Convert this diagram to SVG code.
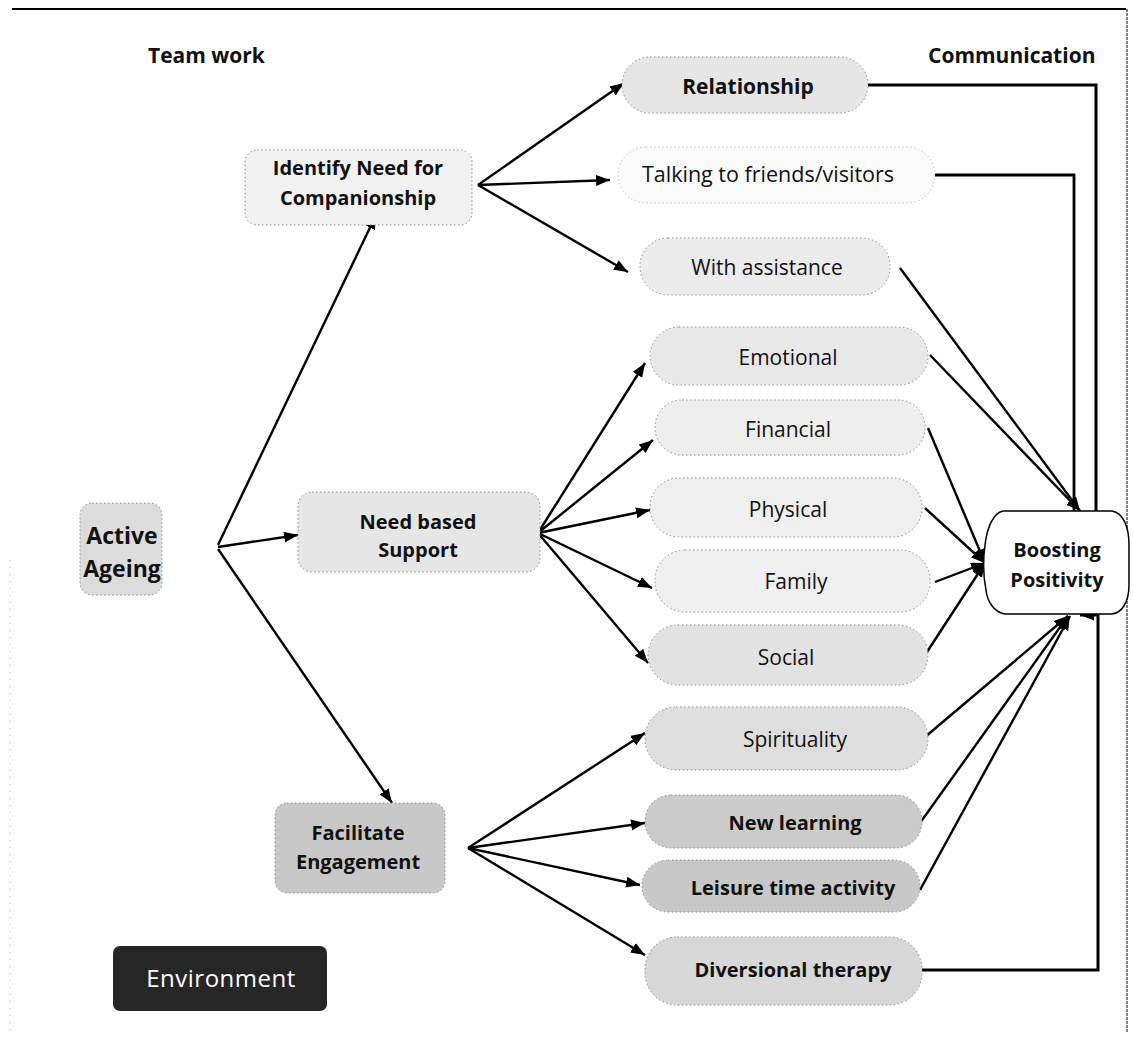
<svg xmlns="http://www.w3.org/2000/svg" width="1133" height="1039" viewBox="0 0 1133 1039">
<defs>
<style>
.t{font-family:"Open Sans","Liberation Sans",sans-serif;font-size:20px;fill:#111;text-anchor:middle}
.b{font-weight:bold}
.m{font-size:21px}
.hd{font-family:"Open Sans","Liberation Sans",sans-serif;font-size:21px;font-weight:bold;fill:#111}
.pill{stroke:#8a8a8a;stroke-width:1;stroke-dasharray:1.5 2.5}
.c{fill:none;stroke:#000;stroke-width:2.4}
</style>
<marker id="ah" markerUnits="userSpaceOnUse" markerWidth="15" markerHeight="12" refX="14" refY="5.5" orient="auto">
<path d="M0,0 L14,5.5 L0,11 Z" fill="#000"/>
</marker>
</defs>
<rect width="1133" height="1039" fill="#fff"/>
<g id="frame">
<line x1="12" y1="9" x2="1126" y2="9" stroke="#000" stroke-width="2"/>
<line x1="1127" y1="9" x2="1127" y2="1032" stroke="#555" stroke-width="1.5" stroke-dasharray="3 1"/>
<line x1="10" y1="560" x2="10" y2="1030" stroke="#aaa" stroke-width="1" stroke-dasharray="1 6"/>
</g>
<g id="headers">
<text class="hd" x="148" y="63">Team work</text>
<text class="hd" x="928" y="63">Communication</text>
</g>
<g id="connectors">
<line class="c" x1="218" y1="545" x2="376" y2="215" marker-end="url(#ah)"/>
<line class="c" x1="218" y1="547" x2="298" y2="535" marker-end="url(#ah)"/>
<line class="c" x1="218" y1="549" x2="392" y2="803" marker-end="url(#ah)"/>
<line class="c" x1="478" y1="185" x2="624" y2="83" marker-end="url(#ah)"/>
<line class="c" x1="478" y1="185" x2="610" y2="180" marker-end="url(#ah)"/>
<line class="c" x1="478" y1="185" x2="628" y2="272" marker-end="url(#ah)"/>
<line class="c" x1="538" y1="533" x2="645" y2="363" marker-end="url(#ah)"/>
<line class="c" x1="538" y1="533" x2="653" y2="440" marker-end="url(#ah)"/>
<line class="c" x1="538" y1="533" x2="650" y2="510" marker-end="url(#ah)"/>
<line class="c" x1="538" y1="533" x2="652" y2="588" marker-end="url(#ah)"/>
<line class="c" x1="538" y1="533" x2="648" y2="663" marker-end="url(#ah)"/>
<line class="c" x1="468" y1="848" x2="645" y2="733" marker-end="url(#ah)"/>
<line class="c" x1="468" y1="848" x2="645" y2="823" marker-end="url(#ah)"/>
<line class="c" x1="468" y1="848" x2="640" y2="885" marker-end="url(#ah)"/>
<line class="c" x1="468" y1="848" x2="645" y2="955" marker-end="url(#ah)"/>
<path class="c" d="M868,85 H1096 V511" style="stroke-width:3"/>
<path class="c" d="M935,175 H1074 V511" style="stroke-width:2.8"/>
<line class="c" x1="900" y1="268" x2="1080" y2="511" marker-end="url(#ah)"/>
<line class="c" x1="930" y1="355" x2="1080" y2="511" marker-end="url(#ah)"/>
<line class="c" x1="928" y1="428" x2="985" y2="563" marker-end="url(#ah)"/>
<line class="c" x1="925" y1="508" x2="985" y2="563" marker-end="url(#ah)"/>
<line class="c" x1="935" y1="582" x2="985" y2="563" marker-end="url(#ah)"/>
<line class="c" x1="925" y1="655" x2="985" y2="563" marker-end="url(#ah)"/>
<line class="c" x1="925" y1="737" x2="1068" y2="616" marker-end="url(#ah)"/>
<line class="c" x1="920" y1="823" x2="1068" y2="616" marker-end="url(#ah)"/>
<line class="c" x1="920" y1="890" x2="1070" y2="616" marker-end="url(#ah)"/>
<path class="c" d="M922,970 H1098 V615 H1080" style="stroke-width:3" marker-end="url(#ah)"/>
</g>
<g id="n-active">
<rect x="80" y="503" width="82" height="92" rx="12" fill="#dcdcdc" class="pill"/>
<text class="t b" x="122" y="544" style="font-size:23px">Active</text>
<text class="t b" x="122" y="577" style="font-size:23px">Ageing</text>
</g>
<g id="n-identify">
<rect x="245" y="150" width="227" height="75" rx="12" fill="#f1f1f1" class="pill"/>
<text class="t b" x="358" y="175">Identify Need for</text>
<text class="t b" x="358" y="205">Companionship</text>
</g>
<g id="n-needbased">
<rect x="298" y="492" width="242" height="80" rx="14" fill="#e6e6e6" class="pill"/>
<text class="t b" x="418" y="529">Need based</text>
<text class="t b" x="418" y="557">Support</text>
</g>
<g id="n-facilitate">
<rect x="275" y="803" width="170" height="90" rx="12" fill="#c8c8c8" class="pill"/>
<text class="t b" x="358" y="840">Facilitate</text>
<text class="t b" x="358" y="869">Engagement</text>
</g>
<g id="n-environment">
<rect x="113" y="946" width="214" height="65" rx="7" fill="#262626"/>
<text class="t" x="221" y="987" style="fill:#fff;font-size:24px;letter-spacing:0.5px">Environment</text>
</g>
<g id="n-relationship">
<rect x="622" y="57" width="246" height="56" rx="28" fill="#e6e6e6" class="pill"/>
<text class="t b m" x="748" y="94">Relationship</text>
</g>
<g id="n-talking">
<rect x="618" y="147" width="317" height="56" rx="28" fill="#fafafa" class="pill" stroke-opacity="0.5"/>
<text class="t" x="768" y="182" style="font-size:21.5px">Talking to friends/visitors</text>
</g>
<g id="n-assistance">
<rect x="640" y="238" width="250" height="57" rx="28" fill="#ececec" class="pill"/>
<text class="t m" x="767" y="275">With assistance</text>
</g>
<g id="n-emotional">
<rect x="650" y="327" width="278" height="58" rx="29" fill="#e8e8e8" class="pill"/>
<text class="t m" x="788" y="365">Emotional</text>
</g>
<g id="n-financial">
<rect x="655" y="400" width="270" height="55" rx="27" fill="#eeeeee" class="pill"/>
<text class="t m" x="788" y="437">Financial</text>
</g>
<g id="n-physical">
<rect x="650" y="478" width="272" height="59" rx="29" fill="#efefef" class="pill"/>
<text class="t m" x="788" y="517">Physical</text>
</g>
<g id="n-family">
<rect x="655" y="550" width="275" height="62" rx="30" fill="#efefef" class="pill"/>
<text class="t m" x="796" y="589">Family</text>
</g>
<g id="n-social">
<rect x="648" y="625" width="280" height="60" rx="30" fill="#e2e2e2" class="pill"/>
<text class="t m" x="786" y="665">Social</text>
</g>
<g id="n-spirituality">
<rect x="645" y="707" width="283" height="63" rx="31" fill="#dedede" class="pill"/>
<text class="t m" x="795" y="747">Spirituality</text>
</g>
<g id="n-newlearning">
<rect x="645" y="795" width="277" height="53" rx="26" fill="#cbcbcb" class="pill"/>
<text class="t b" x="795" y="830">New learning</text>
</g>
<g id="n-leisure">
<rect x="642" y="860" width="278" height="52" rx="26" fill="#c8c8c8" class="pill"/>
<text class="t b" x="793" y="895">Leisure time activity</text>
</g>
<g id="n-diversional">
<rect x="645" y="937" width="277" height="68" rx="32" fill="#d8d8d8" class="pill"/>
<text class="t b" x="793" y="977">Diversional therapy</text>
</g>
<g id="n-boosting">
<path d="M1003,511 L1112,511 C1124,513 1129,528 1129,545 L1129,585 C1129,602 1122,613 1112,614 L1005,614 C993,612 987,600 986,590 C983,575 983,560 985,545 C987,528 993,513 1003,511 Z" fill="#fff" stroke="#000" stroke-width="1.5"/>
<text class="t b" x="1057" y="557">Boosting</text>
<text class="t b" x="1057" y="587">Positivity</text>
</g>
</svg>
